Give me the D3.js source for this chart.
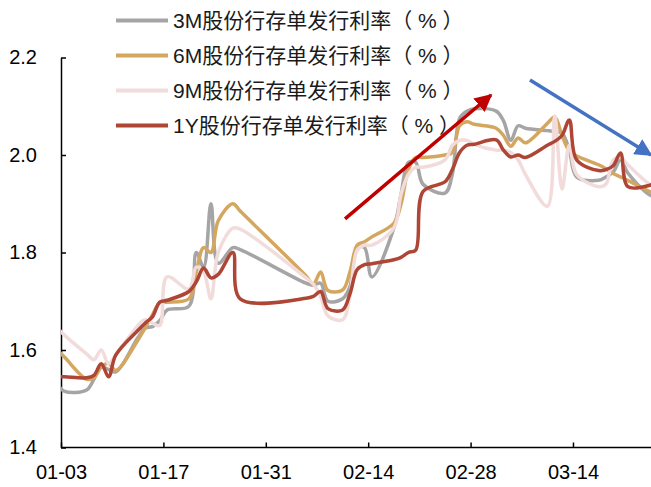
<!DOCTYPE html>
<html><head><meta charset="utf-8">
<script src="https://cdn.jsdelivr.net/npm/d3@7"></script>
<style>
html,body{margin:0;padding:0;background:#fff;}
svg{display:block;}
text{font-family:"Liberation Sans","Noto Sans CJK SC",Arial,sans-serif;}
</style></head>
<body>
<svg id="chart" width="651" height="487"></svg>
<script>
const dates = [
 "2025-01-02","2025-01-03","2025-01-06","2025-01-07","2025-01-08","2025-01-09","2025-01-10",
 "2025-01-13","2025-01-14","2025-01-15","2025-01-16","2025-01-17","2025-01-20","2025-01-21",
 "2025-01-22","2025-01-23","2025-01-24","2025-01-26","2025-01-27",
 "2025-02-05","2025-02-06","2025-02-07","2025-02-08","2025-02-10","2025-02-11","2025-02-12",
 "2025-02-13","2025-02-14","2025-02-17","2025-02-18","2025-02-19","2025-02-20","2025-02-21",
 "2025-02-24","2025-02-25","2025-02-26","2025-02-27","2025-02-28",
 "2025-03-03","2025-03-04","2025-03-05","2025-03-06","2025-03-07","2025-03-10","2025-03-11",
 "2025-03-12","2025-03-13","2025-03-14","2025-03-17","2025-03-18","2025-03-19","2025-03-20",
 "2025-03-21","2025-03-24","2025-03-25"];

const rate3M = [1.53,1.515,1.518,1.54,1.565,1.56,1.555,1.625,1.645,1.648,1.66,1.682,1.69,1.80,
 1.77,1.90,1.778,1.81,1.806,
 1.737,1.733,1.737,1.70,1.705,1.73,1.81,1.81,1.75,1.85,1.92,1.985,1.985,1.94,1.922,1.96,2.075,2.09,2.095,
 2.09,2.07,2.03,2.06,2.055,2.05,2.048,2.045,2.01,1.955,1.948,1.955,1.965,1.99,1.963,1.918,1.915];

const rate6M = [1.60,1.585,1.54,1.543,1.565,1.573,1.558,1.62,1.645,1.672,1.697,1.698,1.705,1.76,
 1.81,1.80,1.865,1.90,1.885,
 1.752,1.735,1.76,1.722,1.723,1.76,1.815,1.822,1.832,1.86,1.90,1.97,1.995,1.995,2.0,2.005,2.06,2.068,2.063,
 2.055,2.04,2.018,2.035,2.025,2.065,2.078,2.04,2.008,1.998,1.98,1.972,1.962,1.955,1.948,1.925,1.92];

const rate9M = [1.645,1.63,1.592,1.58,1.60,1.572,1.59,1.65,1.662,1.655,1.65,1.75,1.725,1.77,
 1.76,1.705,1.80,1.85,1.848,
 1.748,1.735,1.71,1.67,1.662,1.71,1.805,1.815,1.815,1.85,1.92,1.96,1.975,1.975,1.99,2.02,2.03,2.03,2.022,
 2.01,2.01,2.005,1.99,1.96,1.895,2.08,1.93,2.02,1.96,1.935,1.94,1.99,1.995,1.98,1.94,1.935];

const rate1Y = [1.545,1.545,1.543,1.548,1.572,1.545,1.59,1.64,1.655,1.668,1.698,1.702,1.72,1.74,
 1.768,1.748,1.755,1.80,1.705,
 1.706,1.71,1.72,1.685,1.682,1.715,1.765,1.775,1.777,1.785,1.79,1.80,1.805,1.925,1.945,1.97,2.005,2.02,2.022,
 2.031,2.01,1.996,2.0,1.995,2.02,2.028,2.04,2.072,1.99,1.968,1.97,1.978,2.004,1.935,1.938,1.945];

const seriesTenors = ["3M","6M","9M","1Y"];
const seriesLabel = "股份行存单发行利率";
const seriesUnit = ["（", " % ", "）"];
const seriesColors = ["#A5A5A5","#D4A761","#F2DCDB","#AE4535"];
const yTicks = [1.4,1.6,1.8,2.0,2.2];
const xTickLabels = ["01-03","01-17","01-31","02-14","02-28","03-14"];
// trend annotations: [start date, start value, end date, end value]
const upTrend = ["2025-02-10T20:00", 1.869, "2025-03-02T19:00", 2.123];
const downTrend = ["2025-03-08T03:00", 2.154, "2025-03-24T16:00", 2.0];

const svg = d3.select("#chart");
const W = 651, H = 487;
const mLeft = 61, mTop = 57.5, mBottom = 447.5;
const parse = d3.utcParse("%Y-%m-%d");
const parseT = d3.utcParse("%Y-%m-%dT%H:%M");
const x0 = parse("2025-01-03");
const x1 = parse("2025-03-25");
const dayPx = 7.314;
const x = d3.scaleUtc().domain([x0, x1]).range([mLeft, mLeft + 81 * dayPx]);
const y = d3.scaleLinear().domain([1.4, 2.2]).range([mBottom, mTop]);
const halfDay = 12 * 3600 * 1000;
const xd = d => x(new Date(d.getTime() + halfDay)); // points sit between ticks

const defs = svg.append("defs");
defs.append("clipPath").attr("id","clip")
  .append("rect").attr("x", mLeft).attr("y", 0).attr("width", W - mLeft).attr("height", H);

// axes
const tickDates = xTickLabels.map(s => parse("2025-" + s));
const xAxis = d3.axisBottom(x).tickValues(tickDates).tickFormat(d3.utcFormat("%m-%d"))
  .tickSizeInner(-5).tickSizeOuter(0).tickPadding(17);
const gx = svg.append("g").attr("transform", `translate(0,${mBottom})`).call(xAxis);
gx.select(".domain").attr("d", `M${mLeft},0H${W}`);
const yAxis = d3.axisLeft(y).tickValues(yTicks).tickFormat(d3.format(".1f"))
  .tickSizeInner(-5).tickSizeOuter(0).tickPadding(24);
const gy = svg.append("g").attr("transform", `translate(${mLeft},0)`).call(yAxis);
[gx, gy].forEach(g => {
  g.selectAll("path,line").attr("stroke", "#000").attr("stroke-width", 1.5);
  g.selectAll("text").attr("font-size", 20).attr("fill", "#000")
   .attr("font-family", '"Liberation Sans", Arial, sans-serif');
});

// lines
const parsedDates = dates.map(parse);
const allSeries = [rate3M, rate6M, rate9M, rate1Y];
const line = d3.line().x(d => xd(d[0])).y(d => y(d[1])).curve(d3.curveCatmullRom.alpha(0.5));
const gl = svg.append("g").attr("clip-path", "url(#clip)");
allSeries.forEach((vals, i) => {
  gl.append("path")
    .datum(parsedDates.map((d, j) => [d, vals[j]]))
    .attr("d", line)
    .attr("fill", "none")
    .attr("stroke", seriesColors[i])
    .attr("stroke-width", 3.5)
    .attr("stroke-linejoin", "round")
    .attr("stroke-linecap", "round");
});

// legend
const lg = svg.append("g");
const latin = '"Liberation Sans", Arial, sans-serif';
const cjk = '"Noto Sans CJK SC", sans-serif';
seriesTenors.forEach((t, i) => {
  const cy = 20.5 + i * 35;
  lg.append("line").attr("x1", 116).attr("x2", 168).attr("y1", cy).attr("y2", cy)
    .attr("stroke", seriesColors[i]).attr("stroke-width", 4);
  const tx = lg.append("text").attr("x", 173).attr("y", cy).attr("dy", "0.36em")
    .attr("font-size", 21).attr("fill", "#1a1a1a").attr("xml:space", "preserve")
    .style("white-space", "pre");
  tx.append("tspan").attr("font-family", latin).text(t);
  tx.append("tspan").attr("font-family", cjk).text(seriesLabel + seriesUnit[0]);
  tx.append("tspan").attr("font-family", latin).text(seriesUnit[1]);
  tx.append("tspan").attr("font-family", cjk).text(seriesUnit[2]);
});

// trend arrows
function marker(id, color) {
  defs.append("marker").attr("id", id).attr("viewBox", "0 0 10 10")
    .attr("refX", 9).attr("refY", 5).attr("markerWidth", 5).attr("markerHeight", 5)
    .attr("markerUnits", "strokeWidth").attr("orient", "auto")
    .append("path").attr("d", "M0,0L10,5L0,10Z").attr("fill", color);
}
marker("arrRed", "#C00000");
marker("arrBlue", "#4472C4");
function arrow(a, color, id) {
  svg.append("line")
    .attr("x1", x(parseT(a[0]))).attr("y1", y(a[1]))
    .attr("x2", x(parseT(a[2]))).attr("y2", y(a[3]))
    .attr("stroke", color).attr("stroke-width", 3.5)
    .attr("marker-end", `url(#${id})`);
}
arrow(upTrend, "#C00000", "arrRed");
arrow(downTrend, "#4472C4", "arrBlue");
</script>
</body></html>
